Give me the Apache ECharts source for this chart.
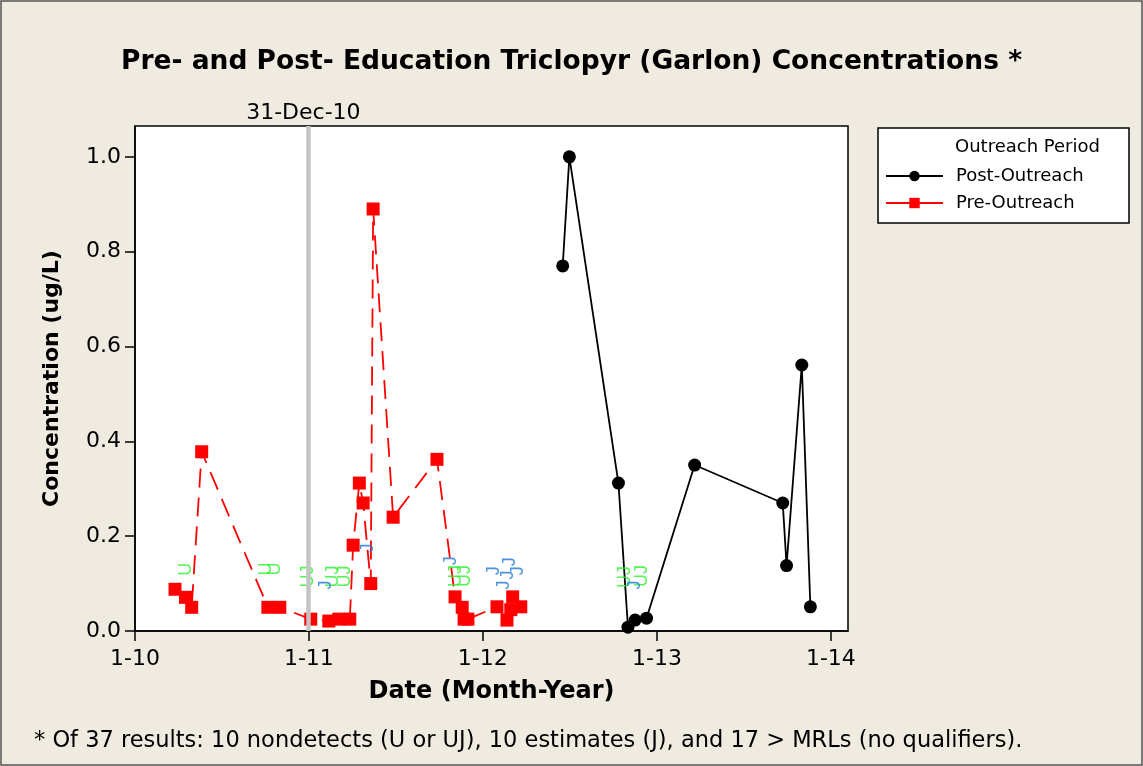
<!DOCTYPE html>
<html>
<head>
<meta charset="utf-8">
<script src="https://cdn.jsdelivr.net/npm/echarts@6/dist/echarts.min.js"></script>
<style>
  html, body { margin: 0; padding: 0; background: #EFEBE1; }
  #chart { width: 1143px; height: 766px; }
</style>
</head>
<body>
<div id="chart"></div>
<script>
// ---------- data ----------
const preDates = ['2010-03-26','2010-04-17','2010-04-30','2010-05-21','2010-10-07','2010-11-01',
  '2011-01-05','2011-02-12','2011-03-05','2011-03-28','2011-04-04','2011-04-17','2011-04-25',
  '2011-05-11','2011-05-16','2011-06-27','2011-09-27','2011-11-04','2011-11-19','2011-11-23',
  '2011-12-01','2012-01-31','2012-02-21','2012-02-29','2012-03-04','2012-03-21'];
const preValues = [0.088,0.071,0.05,0.378,0.05,0.05,
  0.025,0.021,0.025,0.025,0.181,0.312,0.27,
  0.10,0.89,0.24,0.362,0.072,0.05,0.025,
  0.025,0.051,0.023,0.045,0.072,0.051];

const postDates = ['2012-06-17','2012-07-01','2012-10-12','2012-11-01','2012-11-16','2012-12-10',
  '2013-03-21','2013-09-22','2013-09-30','2013-11-01','2013-11-19'];
const postValues = [0.77,1.0,0.312,0.008,0.023,0.027,0.35,0.27,0.138,0.561,0.051];

// qualifier labels (nondetects U / UJ in green, estimates J in blue)
const ndLabelDates = ['2010-04-19','2010-10-04','2010-10-22','2010-12-31','2011-02-20','2011-03-18',
  '2011-11-06','2011-11-25','2012-10-26','2012-11-30'];
const ndLabelValues = [0.130,0.131,0.131,0.115,0.115,0.115,0.116,0.116,0.114,0.116];
const ndLabelTexts = ['U','U','U','UJ','UJ','UJ','UJ','UJ','UJ','UJ'];

const jLabelDates = ['2011-02-06','2011-05-05','2011-10-26','2012-01-25','2012-02-15','2012-02-23',
  '2012-02-27','2012-03-15','2012-11-16'];
const jLabelValues = [0.097,0.175,0.148,0.127,0.097,0.118,0.146,0.127,0.097];

const xTicks = ['2010-01-01','2011-01-01','2012-01-01','2013-01-01','2014-01-01'];
const yTicks = [0, 0.2, 0.4, 0.6, 0.8, 1.0];
const xMin = '2010-01-01', xMax = '2014-02-06';
const yMax = 1.065;
const outreachDate = '2010-12-31';

// ---------- helpers ----------
function toTs(s) { const p = s.split('-').map(Number); return Date.UTC(p[0], p[1]-1, p[2]); }
function pairs(d, v) { return d.map((x, i) => [toTs(x), v[i]]); }

const FONT = 'DejaVu Sans';
const chart = echarts.init(document.getElementById('chart'), null, { renderer: 'canvas' });

const option = {
  backgroundColor: '#EFEBE1',
  animation: false,
  textStyle: { fontFamily: FONT },
  title: [
    { text: 'Pre- and Post- Education Triclopyr (Garlon) Concentrations *', left: 'center', top: 44,
      textStyle: { fontFamily: FONT, fontSize: 26.5, fontWeight: 'bold', color: '#000' } },
    { text: '* Of 37 results: 10 nondetects (U or UJ), 10 estimates (J), and 17 > MRLs (no qualifiers).',
      left: 29, top: 725, textStyle: { fontFamily: FONT, fontSize: 22.5, fontWeight: 'normal', color: '#000' } }
  ],
  graphic: [
    { type: 'rect', z: -10, silent: true, shape: { x: 1, y: 1, width: 1141, height: 764 },
      style: { fill: 'none', stroke: '#555', lineWidth: 1.5 } },
    { type: 'rect', z: 0, silent: true, shape: { x: 878, y: 128, width: 251, height: 95 },
      style: { fill: '#fff', stroke: '#000', lineWidth: 1.5 } },
    { type: 'text', z: 1, silent: true, left: 955, top: 138,
      style: { text: 'Outreach Period', fontFamily: FONT, fontSize: 18, fill: '#000' } }
  ],
  legend: {
    orient: 'vertical', left: 885, top: 167, itemWidth: 57, itemHeight: 13, itemGap: 9, padding: 0,
    textStyle: { fontFamily: FONT, fontSize: 18, color: '#000', padding: [0, 0, 0, 8] },
    data: [
      { name: 'Post-Outreach', lineStyle: { type: 'solid' } },
      { name: 'Pre-Outreach', lineStyle: { type: 'solid' } }
    ]
  },
  grid: { left: 135, right: 295, top: 126, bottom: 135, show: true, backgroundColor: '#fff',
    borderColor: '#000', borderWidth: 1.5 },
  xAxis: {
    type: 'value', min: toTs(xMin), max: toTs(xMax),
    name: 'Date (Month-Year)', nameLocation: 'middle', nameGap: 49,
    nameTextStyle: { fontFamily: FONT, fontSize: 24, fontWeight: 'bold', color: '#000' },
    axisLine: { show: true, lineStyle: { color: '#000', width: 1.5 } },
    axisTick: { show: true, length: 10, customValues: xTicks.map(toTs), lineStyle: { color: '#000', width: 1.5 } },
    axisLabel: { customValues: xTicks.map(toTs), fontFamily: FONT, fontSize: 22, color: '#000', margin: 17,
      formatter: function (v) { const d = new Date(v); return (d.getUTCMonth()+1) + '-' + String(d.getUTCFullYear()).slice(2); } },
    splitLine: { show: false }
  },
  yAxis: {
    type: 'value', min: 0, max: yMax,
    name: 'Concentration (ug/L)', nameLocation: 'middle', nameGap: 72,
    nameTextStyle: { fontFamily: FONT, fontSize: 22, fontWeight: 'bold', color: '#000' },
    axisLine: { show: true, lineStyle: { color: '#000', width: 1.5 } },
    axisTick: { show: true, length: 10, customValues: yTicks, lineStyle: { color: '#000', width: 1.5 } },
    axisLabel: { customValues: yTicks, fontFamily: FONT, fontSize: 22, color: '#000', margin: 14,
      formatter: function (v) { return v.toFixed(1); } },
    splitLine: { show: false }
  },
  series: [
    { name: 'outreach', type: 'line', data: [], z: 1, silent: true,
      markLine: { silent: true, symbol: ['none','none'], animation: false,
        lineStyle: { color: '#c4c4c4', width: 4.5, type: 'solid' },
        label: { show: true, position: 'end', formatter: '31-Dec-10', fontFamily: FONT, fontSize: 22, color: '#000',
          distance: 2, offset: [-5, 0] },
        data: [{ xAxis: toTs(outreachDate) }] } },
    { name: 'Post-Outreach', type: 'line', z: 3, data: pairs(postDates, postValues),
      symbol: 'circle', symbolSize: 13, itemStyle: { color: '#000' },
      lineStyle: { color: '#000', width: 1.8 } },
    { name: 'Pre-Outreach', type: 'line', z: 3, data: pairs(preDates, preValues),
      symbol: 'rect', symbolSize: 13, itemStyle: { color: '#ff0000' },
      lineStyle: { color: '#ff0000', width: 1.8, type: [19, 10] } },
    { name: 'nd-labels', type: 'scatter', z: 4, silent: true, symbolSize: 1,
      itemStyle: { color: 'rgba(0,0,0,0)' },
      data: ndLabelDates.map((d, i) => ({ value: [toTs(d), ndLabelValues[i]], name: ndLabelTexts[i] })),
      label: { show: true, position: 'inside', rotate: 90, formatter: '{b}',
        fontFamily: 'Liberation Sans Narrow, Liberation Sans', fontSize: 18, color: '#2cf02c' } },
    { name: 'j-labels', type: 'scatter', z: 4, silent: true, symbolSize: 1,
      itemStyle: { color: 'rgba(0,0,0,0)' },
      data: jLabelDates.map((d, i) => ({ value: [toTs(d), jLabelValues[i]], name: 'J' })),
      label: { show: true, position: 'inside', rotate: 90, formatter: '{b}',
        fontFamily: 'Liberation Sans Narrow, Liberation Sans', fontSize: 18, color: '#1f78d8' } }
  ]
};
chart.setOption(option);
</script>
</body>
</html>
